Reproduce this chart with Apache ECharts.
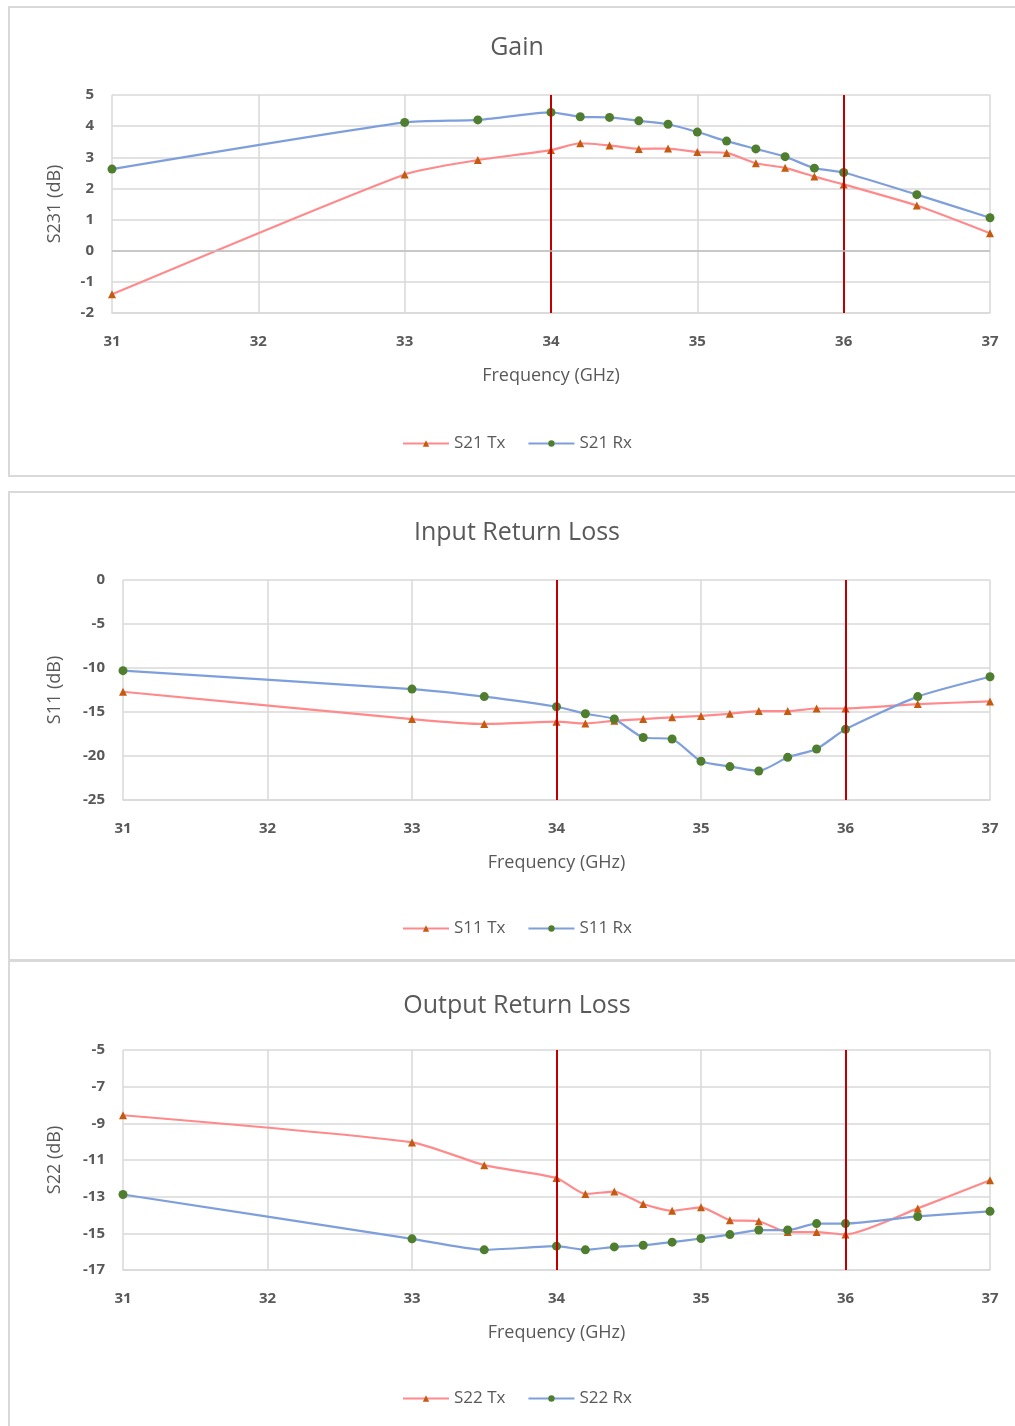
<!DOCTYPE html>
<html><head><meta charset="utf-8">
<script src="https://cdn.jsdelivr.net/npm/echarts@6/dist/echarts.min.js"></script>
<style>html,body{margin:0;padding:0;background:#fff;}#c{width:1015px;height:1426px;}</style>
</head><body><div id="c"></div>
<script>
const freq = [31, 33, 33.5, 34, 34.2, 34.4, 34.6, 34.8, 35, 35.2, 35.4, 35.6, 35.8, 36, 36.5, 37];
const gainTx = [-1.4, 2.45, 2.91, 3.23, 3.45, 3.38, 3.27, 3.28, 3.17, 3.14, 2.81, 2.66, 2.38, 2.13, 1.45, 0.56];
const gainRx = [2.62, 4.12, 4.2, 4.44, 4.3, 4.28, 4.17, 4.06, 3.81, 3.52, 3.27, 3.02, 2.65, 2.51, 1.8, 1.06];
const s11Tx = [-12.7, -15.8, -16.36, -16.1, -16.3, -16.0, -15.8, -15.6, -15.45, -15.2, -14.9, -14.9, -14.6, -14.6, -14.1, -13.8];
const s11Rx = [-10.3, -12.4, -13.25, -14.4, -15.2, -15.8, -17.9, -18.07, -20.6, -21.2, -21.7, -20.15, -19.2, -16.97, -13.25, -11.0];
const s22Tx = [-8.56, -10.04, -11.28, -11.98, -12.85, -12.72, -13.4, -13.77, -13.58, -14.28, -14.34, -14.93, -14.93, -15.06, -13.64, -12.1];
const s22Rx = [-12.88, -15.3, -15.9, -15.7, -15.9, -15.74, -15.65, -15.48, -15.28, -15.07, -14.82, -14.82, -14.47, -14.47, -14.08, -13.8];
const bandEdges = [34, 36];
const xTicks = [31, 32, 33, 34, 35, 36, 37];

const FONT = '"Open Sans", "Liberation Sans", sans-serif';
const TXT = '#595959';
const TX_LINE = '#ff8a8c', TX_MARK = '#c55a11';
const RX_LINE = '#7f9fdc', RX_MARK = '#4f7f2e';

const panels = [
  {title:'Gain', top:95, h:218, left:112, yName:'S231 (dB)', yGap:48, min:-2, max:5, interval:1,
   tx:gainTx, rx:gainRx, txName:'S21 Tx', rxName:'S21 Rx', titleTop:30, legendTop:430, zero:true},
  {title:'Input Return Loss', top:580, h:220, left:123, yName:'S11 (dB)', yGap:59, min:-25, max:0, interval:5,
   tx:s11Tx, rx:s11Rx, txName:'S11 Tx', rxName:'S11 Rx', titleTop:515, legendTop:915, zero:false},
  {title:'Output Return Loss', top:1050, h:220, left:123, yName:'S22 (dB)', yGap:59, min:-17, max:-5, interval:2,
   tx:s22Tx, rx:s22Rx, txName:'S22 Tx', rxName:'S22 Rx', titleTop:988, legendTop:1385, zero:false}
];

const option = {
  backgroundColor:'#fff',
  animation:false,
  title:[], legend:[], grid:[], xAxis:[], yAxis:[], series:[],
  graphic:[
    {type:'rect', shape:{x:9,y:7,width:1020,height:469}, style:{fill:'none', stroke:'#d9d9d9', lineWidth:2}},
    {type:'rect', shape:{x:9,y:492,width:1020,height:468}, style:{fill:'none', stroke:'#d9d9d9', lineWidth:2}},
    {type:'rect', shape:{x:9,y:961,width:1020,height:480}, style:{fill:'none', stroke:'#d9d9d9', lineWidth:2}}
  ]
};

panels.forEach((p, i) => {
  option.title.push({text:p.title, left:512, textAlign:'center', top:p.titleTop,
    textStyle:{fontFamily:FONT, fontSize:25, fontWeight:'normal', color:TXT}});
  option.legend.push({top:p.legendTop, left:397, data:[p.txName, p.rxName], itemWidth:46, itemHeight:8,
    itemGap:22, textStyle:{fontFamily:FONT, fontSize:17, color:TXT}});
  option.grid.push({left:p.left, right:25, top:p.top, height:p.h});
  option.xAxis.push({type:'value', gridIndex:i, min:31, max:37, interval:1,
    name:'Frequency (GHz)', nameLocation:'middle', nameGap:54,
    nameTextStyle:{fontFamily:FONT, fontSize:18, color:TXT},
    axisLine:{onZero:false, lineStyle:{color:'#d9d9d9', width:1.5}},
    axisTick:{show:false},
    axisLabel:{margin:21, fontFamily:FONT, fontSize:15, fontWeight:'bold', color:TXT,
      formatter:v => xTicks.includes(v) ? String(v) : ''},
    splitLine:{show:true, lineStyle:{color:'#d9d9d9', width:1.5}}});
  option.yAxis.push({type:'value', gridIndex:i, min:p.min, max:p.max, interval:p.interval,
    name:p.yName, nameLocation:'middle', nameGap:p.yGap, nameRotate:90,
    nameTextStyle:{fontFamily:FONT, fontSize:18, color:TXT},
    axisLine:{show:false}, axisTick:{show:false},
    axisLabel:{margin:18, fontFamily:FONT, fontSize:15, fontWeight:'bold', color:TXT},
    splitLine:{show:true, lineStyle:{color:'#d9d9d9', width:1.5}}});
  const markLine = {silent:true, symbol:['none','none'], label:{show:false},
    lineStyle:{color:'#c00000', width:2, type:'solid'},
    data: bandEdges.map(e => ({xAxis:e}))};
  if (p.zero) markLine.data.push({yAxis:0, lineStyle:{color:'#bfbfbf', width:1.5}});
  option.series.push({name:p.txName, type:'line', xAxisIndex:i, yAxisIndex:i, smooth:0.2,
    data: freq.map((f, k) => [f, p.tx[k]]),
    symbol:'triangle', symbolSize:8, showAllSymbol:true,
    lineStyle:{color:TX_LINE, width:2.2}, itemStyle:{color:TX_MARK},
    markLine: markLine, z:3});
  option.series.push({name:p.rxName, type:'line', xAxisIndex:i, yAxisIndex:i, smooth:0.2,
    data: freq.map((f, k) => [f, p.rx[k]]),
    symbol:'circle', symbolSize:9, showAllSymbol:true,
    lineStyle:{color:RX_LINE, width:2.2}, itemStyle:{color:RX_MARK}, z:4});
});

const chart = echarts.init(document.getElementById('c'), null, {renderer:'canvas'});
chart.setOption(option);
</script>
</body></html>
